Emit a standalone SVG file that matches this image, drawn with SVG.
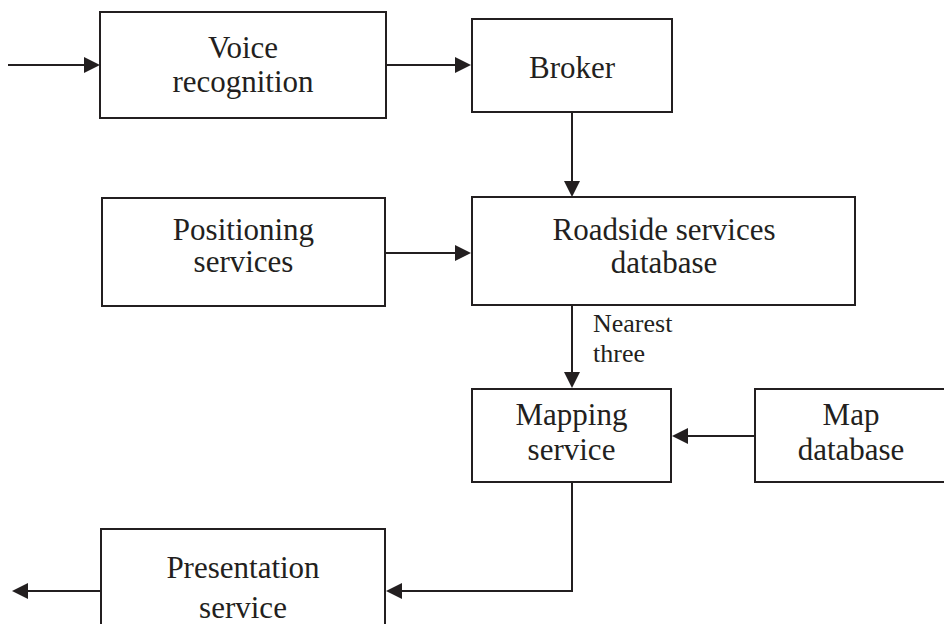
<svg xmlns="http://www.w3.org/2000/svg" width="944" height="624" viewBox="0 0 944 624">
  <style>
    .box { fill: #ffffff; stroke: #231f20; stroke-width: 2; }
    .wire { fill: none; stroke: #231f20; stroke-width: 2; }
    .lbl { font-family: "Liberation Serif", "DejaVu Serif", serif; font-size: 31px; fill: #231f20; text-anchor: middle; }
    .note { font-family: "Liberation Serif", "DejaVu Serif", serif; font-size: 26px; fill: #231f20; }
  </style>
  <defs>
    <marker id="head" viewBox="0 0 16 16" refX="6" refY="8" markerWidth="16" markerHeight="16" markerUnits="userSpaceOnUse" orient="auto">
      <path d="M0,0 L16,8 L0,16 z" fill="#231f20"/>
    </marker>
  </defs>
  <rect width="944" height="624" fill="#ffffff"/>

  <g id="connectors">
    <path class="wire" d="M8,65 H90" marker-end="url(#head)"/>
    <path class="wire" d="M386,65 H461" marker-end="url(#head)"/>
    <path class="wire" d="M572,112 V187" marker-end="url(#head)"/>
    <path class="wire" d="M385,253 H461" marker-end="url(#head)"/>
    <path class="wire" d="M572,305 V378" marker-end="url(#head)"/>
    <path class="wire" d="M755,436 H682" marker-end="url(#head)"/>
    <path class="wire" d="M572,482 V591 H396" marker-end="url(#head)"/>
    <path class="wire" d="M101,591 H22" marker-end="url(#head)"/>
    <text class="note" x="593" y="332">Nearest</text>
    <text class="note" x="593" y="362">three</text>
  </g>

  <g id="voice-recognition">
    <rect class="box" x="100" y="12" width="286" height="106"/>
    <text class="lbl" x="243" y="58">Voice</text>
    <text class="lbl" x="243" y="92">recognition</text>
  </g>

  <g id="broker">
    <rect class="box" x="472" y="19" width="200" height="93"/>
    <text class="lbl" x="572" y="78">Broker</text>
  </g>

  <g id="positioning-services">
    <rect class="box" x="102" y="198" width="283" height="108"/>
    <text class="lbl" x="243.5" y="240">Positioning</text>
    <text class="lbl" x="243.5" y="272">services</text>
  </g>

  <g id="roadside-services-database">
    <rect class="box" x="472" y="197" width="383" height="108"/>
    <text class="lbl" x="664" y="240">Roadside services</text>
    <text class="lbl" x="664" y="273">database</text>
  </g>

  <g id="mapping-service">
    <rect class="box" x="472" y="389" width="199" height="93"/>
    <text class="lbl" x="571.5" y="425">Mapping</text>
    <text class="lbl" x="571.5" y="460">service</text>
  </g>

  <g id="map-database">
    <rect class="box" x="755" y="389" width="200" height="93"/>
    <text class="lbl" x="851" y="425">Map</text>
    <text class="lbl" x="851" y="460">database</text>
  </g>

  <g id="presentation-service">
    <rect class="box" x="101" y="529" width="284" height="110"/>
    <text class="lbl" x="243" y="578">Presentation</text>
    <text class="lbl" x="243" y="618">service</text>
  </g>
</svg>
